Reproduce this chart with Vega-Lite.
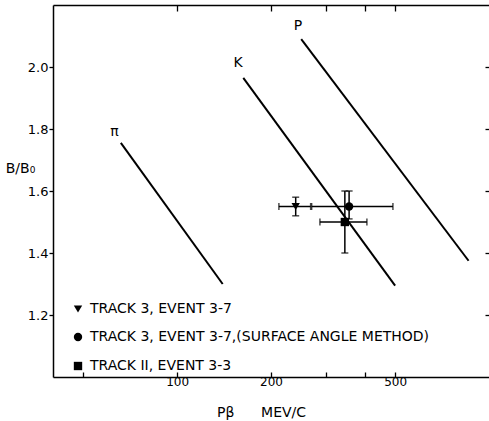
{
  "$schema": "https://vega.github.io/schema/vega-lite/v6.json",
  "width": 436,
  "height": 372,
  "autosize": {"type": "none"},
  "padding": {"left": 53, "top": 5, "right": 0, "bottom": 44},
  "background": "white",
  "config": {
    "view": {"stroke": null},
    "font": "DejaVu Sans",
    "axis": {
      "grid": false,
      "domainColor": "black",
      "domainWidth": 1.5,
      "tickColor": "black",
      "tickWidth": 1.3,
      "labelColor": "black",
      "labelFont": "DejaVu Sans",
      "titleColor": "black",
      "titleFont": "DejaVu Sans",
      "titleFontWeight": "normal"
    },
    "legend": {
      "labelFont": "DejaVu Sans",
      "labelColor": "black"
    }
  },
  "datasets": {
    "curves": [
      {"particle": "pi", "p_beta": 66, "b_ratio": 1.755},
      {"particle": "pi", "p_beta": 140, "b_ratio": 1.3},
      {"particle": "K", "p_beta": 163, "b_ratio": 1.965},
      {"particle": "K", "p_beta": 500, "b_ratio": 1.295},
      {"particle": "P", "p_beta": 250, "b_ratio": 2.09},
      {"particle": "P", "p_beta": 860, "b_ratio": 1.375}
    ],
    "curve_labels": [
      {"label": "π", "p_beta": 63, "b_ratio": 1.79},
      {"label": "K", "p_beta": 157, "b_ratio": 2.013},
      {"label": "P", "p_beta": 244, "b_ratio": 2.132}
    ],
    "tracks": [
      {"series": "TRACK 3, EVENT 3-7", "p_beta": 240, "p_lo": 212, "p_hi": 268, "b_ratio": 1.55, "b_lo": 1.52, "b_hi": 1.58},
      {"series": "TRACK 3, EVENT 3-7,(SURFACE ANGLE METHOD)", "p_beta": 356, "p_lo": 270, "p_hi": 492, "b_ratio": 1.55, "b_lo": 1.51, "b_hi": 1.6},
      {"series": "TRACK II, EVENT 3-3", "p_beta": 345, "p_lo": 287, "p_hi": 406, "b_ratio": 1.5, "b_lo": 1.4, "b_hi": 1.6}
    ]
  },
  "layer": [
    {
      "data": {"name": "curves"},
      "mark": {"type": "line", "color": "black", "strokeWidth": 2},
      "encoding": {
        "x": {
          "field": "p_beta", "type": "quantitative",
          "scale": {"type": "log", "domain": [40, 1000], "nice": false},
          "axis": {
            "orient": "bottom",
            "values": [50, 100, 200, 300, 400, 500],
            "labelExpr": "datum.value == 100 || datum.value == 200 || datum.value == 500 ? datum.value : ''",
            "tickSize": -5,
            "labelPadding": 4,
            "labelFontSize": 12,
            "title": "Pβ\u00a0\u00a0\u00a0\u00a0\u00a0\u00a0MEV/C",
            "titleFontSize": 14,
            "titleX": 208,
            "titleY": 35,
            "titleBaseline": "middle",
            "titleAlign": "center"
          }
        },
        "y": {
          "field": "b_ratio", "type": "quantitative",
          "scale": {"domain": [1.0, 2.2], "nice": false, "zero": false},
          "axis": {
            "orient": "left",
            "values": [1.2, 1.4, 1.6, 1.8, 2.0],
            "format": ".1f",
            "tickSize": 4,
            "labelPadding": 1,
            "labelFontSize": 13,
            "title": "B/B₀",
            "titleAngle": 0,
            "titleFontSize": 14,
            "titleX": -33,
            "titleY": 163,
            "titleAlign": "center",
            "titleBaseline": "middle"
          }
        },
        "detail": {"field": "particle"}
      }
    },
    {
      "data": {"name": "curve_labels"},
      "mark": {"type": "text", "fontSize": 14, "color": "black"},
      "encoding": {
        "x": {
          "field": "p_beta", "type": "quantitative",
          "scale": {"type": "log", "domain": [40, 1000], "nice": false},
          "axis": {
            "orient": "top",
            "values": [100, 200, 300, 400, 500],
            "labels": false,
            "tickSize": -6,
            "title": null
          }
        },
        "y": {
          "field": "b_ratio", "type": "quantitative",
          "scale": {"domain": [1.0, 2.2], "nice": false, "zero": false},
          "axis": {
            "orient": "right",
            "values": [1.2, 1.4, 1.6, 1.8, 2.0],
            "labels": false,
            "domain": false,
            "tickSize": -4,
            "title": null
          }
        },
        "text": {"field": "label"}
      }
    },
    {
      "data": {"name": "tracks"},
      "mark": {"type": "errorbar", "ticks": {"size": 7, "thickness": 1.5}, "rule": {"strokeWidth": 1.5}, "color": "black"},
      "encoding": {
        "x": {"field": "p_lo", "type": "quantitative", "scale": {"type": "log", "domain": [40, 1000], "nice": false}, "axis": null},
        "x2": {"field": "p_hi"},
        "y": {"field": "b_ratio", "type": "quantitative", "scale": {"domain": [1.0, 2.2], "nice": false, "zero": false}, "axis": null}
      }
    },
    {
      "data": {"name": "tracks"},
      "mark": {"type": "errorbar", "ticks": {"size": 7, "thickness": 1.5}, "rule": {"strokeWidth": 1.5}, "color": "black"},
      "encoding": {
        "y": {"field": "b_lo", "type": "quantitative", "scale": {"domain": [1.0, 2.2], "nice": false, "zero": false}, "axis": null},
        "y2": {"field": "b_hi"},
        "x": {"field": "p_beta", "type": "quantitative", "scale": {"type": "log", "domain": [40, 1000], "nice": false}, "axis": null}
      }
    },
    {
      "data": {"name": "tracks"},
      "mark": {"type": "point", "filled": true, "color": "black", "opacity": 1, "size": 70},
      "encoding": {
        "x": {"field": "p_beta", "type": "quantitative", "scale": {"type": "log", "domain": [40, 1000], "nice": false}, "axis": null},
        "y": {"field": "b_ratio", "type": "quantitative", "scale": {"domain": [1.0, 2.2], "nice": false, "zero": false}, "axis": null},
        "shape": {
          "field": "series", "type": "nominal",
          "scale": {
            "domain": ["TRACK 3, EVENT 3-7", "TRACK 3, EVENT 3-7,(SURFACE ANGLE METHOD)", "TRACK II, EVENT 3-3"],
            "range": ["triangle-down", "circle", "square"]
          },
          "legend": {
            "title": null,
            "orient": "none",
            "legendX": 18,
            "legendY": 297,
            "padding": 0,
            "rowPadding": 13,
            "labelFontSize": 14,
            "labelOffset": 5,
            "labelLimit": 0,
            "symbolSize": 70,
            "symbolFillColor": "black",
            "symbolStrokeColor": "black",
            "symbolOpacity": 1
          }
        }
      }
    }
  ],
  "resolve": {"axis": {"x": "independent", "y": "independent"}}
}
